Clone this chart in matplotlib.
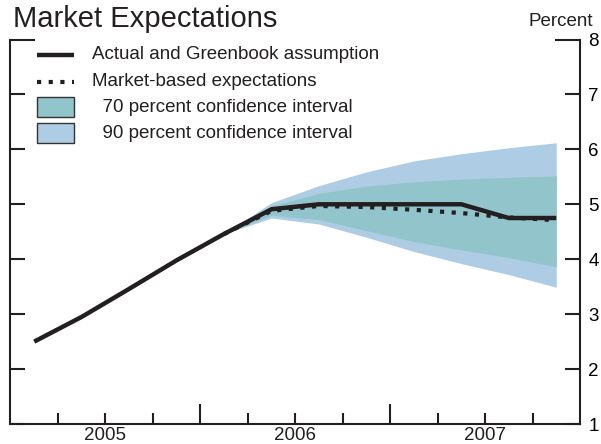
import matplotlib

matplotlib.use("Agg")
import matplotlib.pyplot as plt
from matplotlib.patches import Rectangle
from matplotlib.ticker import FixedLocator, NullFormatter


plt.rcParams["font.family"] = ["Liberation Sans", "DejaVu Sans"]

# quarterly data, plotted at the middle of each quarter
actual_quarters = [
    "2005Q1", "2005Q2", "2005Q3", "2005Q4",
    "2006Q1", "2006Q2", "2006Q3", "2006Q4",
    "2007Q1", "2007Q2", "2007Q3", "2007Q4",
]
actual_rate = [2.5, 2.95, 3.46, 3.98, 4.46, 4.91, 5.0, 5.0, 5.0, 5.0, 4.75, 4.75]

forecast_quarters = [
    "2006Q1", "2006Q2", "2006Q3", "2006Q4",
    "2007Q1", "2007Q2", "2007Q3", "2007Q4",
]
market_rate = [4.46, 4.88, 4.97, 4.95, 4.90, 4.84, 4.76, 4.71]
upper_90 = [4.46, 5.03, 5.34, 5.59, 5.79, 5.92, 6.03, 6.12]
upper_70 = [4.46, 4.97, 5.20, 5.33, 5.41, 5.46, 5.49, 5.52]
lower_70 = [4.46, 4.80, 4.72, 4.52, 4.32, 4.17, 4.03, 3.86]
lower_90 = [4.46, 4.75, 4.64, 4.40, 4.14, 3.92, 3.72, 3.49]

years = [2005, 2006, 2007]
y_ticks = [1, 2, 3, 4, 5, 6, 7, 8]

legend_labels = [
    "Actual and Greenbook assumption",
    "Market-based expectations",
    "  70 percent confidence interval",
    "  90 percent confidence interval",
]

INK = "#231f20"
TEAL = "#92c4cc"
LIGHT_BLUE = "#aecde5"


def quarter_to_year(label):
    year, quarter = label.split("Q")
    return int(year) + (int(quarter) - 0.5) / 4


x_actual = [quarter_to_year(q) for q in actual_quarters]
x_forecast = [quarter_to_year(q) for q in forecast_quarters]

fig = plt.figure(figsize=(6.01, 4.44), dpi=100)
ax = fig.add_axes([10.5 / 601, 20 / 444, 569.5 / 601, 384.5 / 444])

ax.fill_between(x_forecast, lower_90, upper_90, color=LIGHT_BLUE, lw=0, zorder=1)
ax.fill_between(x_forecast, lower_70, upper_70, color=TEAL, lw=0, zorder=2)
ax.plot(x_actual, actual_rate, color=INK, lw=3.2, solid_capstyle="butt", zorder=3)
ax.plot(x_forecast, market_rate, color=INK, lw=3.0,
        linestyle=(0, (1, 1.8)), dash_capstyle="butt", zorder=4)

ax.set_xlim(2005, 2008)
ax.set_ylim(1, 8)

# axes frame
ax.spines["top"].set_visible(False)
for side in ["left", "right", "bottom"]:
    ax.spines[side].set_linewidth(1.5)
    ax.spines[side].set_color(INK)

ax.set_yticks(y_ticks)
ax.yaxis.set_ticks_position("both")
ax.tick_params(axis="y", direction="in", length=11, width=1.5, color=INK,
               labelleft=False, labelright=True, labelsize=13.5, pad=6)
top_tick = ax.yaxis.get_major_ticks()[-1]
top_tick.tick1line.set_markersize(18)
top_tick.tick2line.set_markersize(18)

ax.xaxis.set_major_locator(FixedLocator([2006, 2007]))
ax.xaxis.set_minor_locator(FixedLocator(
    [y + q / 4 for y in years for q in (1, 2, 3)]))
ax.xaxis.set_major_formatter(NullFormatter())
ax.tick_params(axis="x", which="major", direction="in", length=14.5, width=1.5, color=INK)
ax.tick_params(axis="x", which="minor", direction="in", length=8, width=1.5, color=INK)

for year in years:
    ax.text(year + 0.5, -0.03, str(year), transform=ax.get_xaxis_transform(),
            ha="center", va="center", fontsize=13.5, color=INK)

fig.text(13 / 601, 1 - 27 / 444, "Market Expectations", fontsize=21,
         color=INK, va="baseline", ha="left")
fig.text(561 / 601, 1 - 22 / 444, "Percent", fontsize=13.5,
         color=INK, va="center", ha="center")

# legend drawn by hand to match the spacing of the original
row_y = [0.9597, 0.8895, 0.8244, 0.7568]
handle_x0, handle_x1 = 0.0465, 0.1115
ax.plot([handle_x0, handle_x1], [row_y[0]] * 2, color=INK, lw=3.2,
        transform=ax.transAxes, solid_capstyle="butt")
ax.plot([handle_x0, handle_x1], [row_y[1]] * 2, color=INK, lw=3.0,
        linestyle=(0, (1, 1.8)), dash_capstyle="butt", transform=ax.transAxes)
patch_h = 20 / 384.5
for y, colour in zip(row_y[2:], [TEAL, LIGHT_BLUE]):
    ax.add_patch(Rectangle((handle_x0, y - patch_h / 2), handle_x1 - handle_x0, patch_h,
                           transform=ax.transAxes, facecolor=colour,
                           edgecolor="#333333", lw=1.0))
for y, label in zip(row_y, legend_labels):
    ax.text(0.1431, y, label, transform=ax.transAxes, fontsize=13.5,
            color=INK, va="center", ha="left")

fig.savefig("out.png", dpi=100)
